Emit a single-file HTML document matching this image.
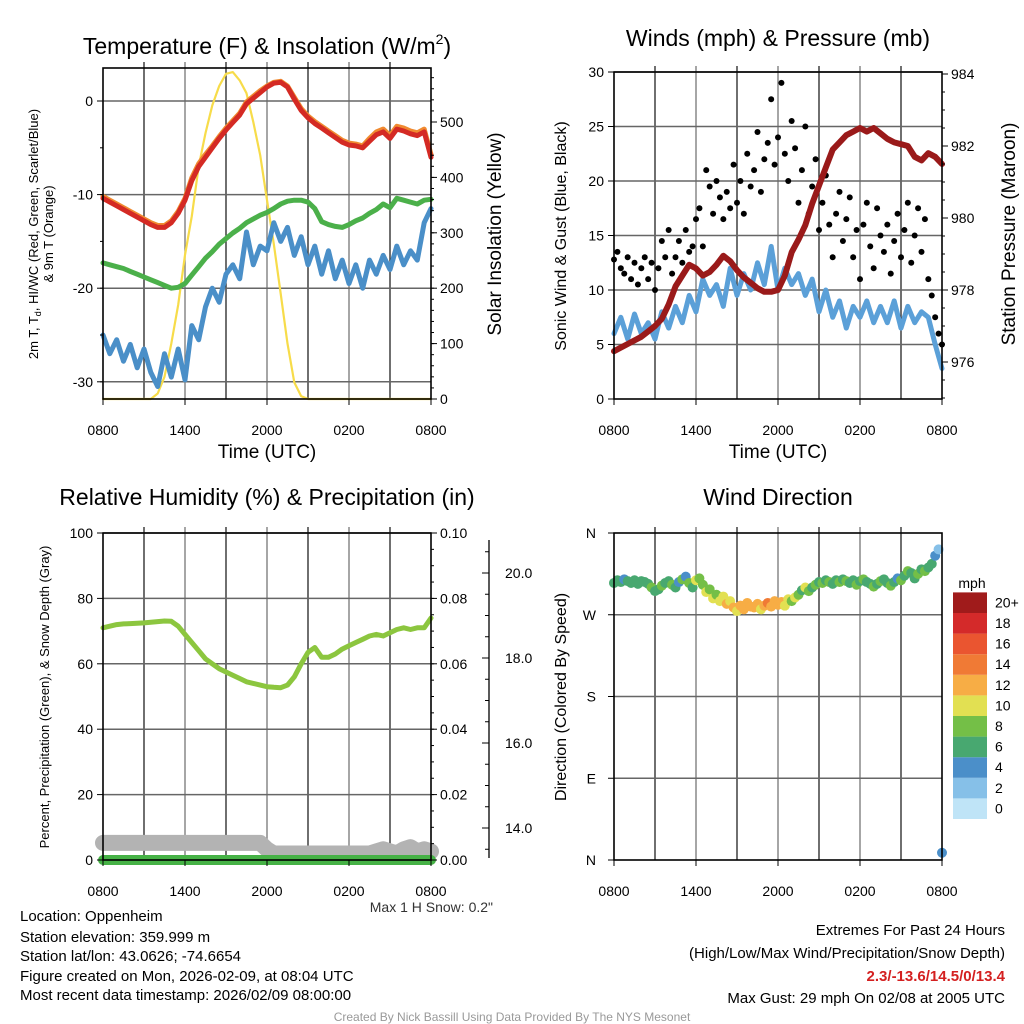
<!DOCTYPE html>
<html><head><meta charset="utf-8"><style>
body{margin:0;background:#fff;}
svg{display:block;font-family:"Liberation Sans",Arial,sans-serif;}
</style></head><body>
<svg id="s" width="1024" height="1024" viewBox="0 0 1024 1024">
<rect x="0" y="0" width="1024" height="1024" fill="#fff"/>
<g id="grids"></g>
<g id="marks"></g>
<g id="axes"></g>
<g font-size="23" fill="#000" text-anchor="middle">
<text x="267" y="54">Temperature (F) &amp; Insolation (W/m<tspan font-size="14" dy="-10">2</tspan><tspan dy="10">)</tspan></text>
<text x="778" y="46">Winds (mph) &amp; Pressure (mb)</text>
<text x="267" y="505">Relative Humidity (%) &amp; Precipitation (in)</text>
<text x="778" y="505">Wind Direction</text>
</g>
<g font-size="19" text-anchor="middle">
<text x="267" y="458">Time (UTC)</text>
<text x="778" y="458">Time (UTC)</text>
<text transform="translate(501,234) rotate(-90)">Solar Insolation (Yellow)</text>
<text transform="translate(1015,234) rotate(-90)">Station Pressure (Maroon)</text>
</g>
<g font-size="16" text-anchor="middle">
<text transform="translate(566,236) rotate(-90)">Sonic Wind &amp; Gust (Blue, Black)</text>
<text transform="translate(566,697) rotate(-90)">Direction (Colored By Speed)</text>
</g>
<g font-size="13" text-anchor="middle">
<text transform="translate(38,234) rotate(-90)">2m T, T<tspan font-size="9" dy="3">d</tspan><tspan dy="-3">, HI/WC (Red, Green, Scarlet/Blue)</tspan></text>
<text transform="translate(53,234) rotate(-90)">&amp; 9m T (Orange)</text>
<text transform="translate(49,697) rotate(-90)">Percent, Precipitation (Green), &amp; Snow Depth (Gray)</text>
</g>
<text x="493" y="912" font-size="14" text-anchor="end" fill="#333">Max 1 H Snow: 0.2"</text>
<g font-size="15" fill="#000">
<text x="20" y="921">Location: Oppenheim</text>
<text x="20" y="942">Station elevation: 359.999 m</text>
<text x="20" y="961">Station lat/lon: 43.0626; -74.6654</text>
<text x="20" y="981">Figure created on Mon, 2026-02-09, at 08:04 UTC</text>
<text x="20" y="1000">Most recent data timestamp: 2026/02/09 08:00:00</text>
</g>
<g font-size="15" text-anchor="end">
<text x="1005" y="935">Extremes For Past 24 Hours</text>
<text x="1005" y="958">(High/Low/Max Wind/Precipitation/Snow Depth)</text>
<text x="1005" y="981" fill="#d42020" font-weight="bold">2.3/-13.6/14.5/0/13.4</text>
<text x="1005" y="1003">Max Gust: 29 mph On 02/08 at 2005 UTC</text>
</g>
<text x="512" y="1021" font-size="12" fill="#999" text-anchor="middle">Created By Nick Bassill Using Data Provided By The NYS Mesonet</text>
<text x="972" y="588" font-size="14" text-anchor="middle">mph</text>
</svg>
<script>
// ---- data (half-hour steps, 0800 -> 0800 UTC) ----
const tempF = [-10.4,-10.8,-11.2,-11.6,-12.0,-12.4,-12.8,-13.2,-13.5,-13.5,-13.0,-12.0,-10.6,-8.5,-7.0,-6.0,-5.0,-4.0,-3.1,-2.3,-1.5,-0.3,0.3,0.9,1.5,1.9,2.0,1.5,0.2,-1.0,-1.8,-2.4,-2.9,-3.4,-3.9,-4.4,-4.7,-4.8,-5.0,-4.3,-3.6,-3.3,-4.0,-3.0,-3.2,-3.5,-3.7,-3.3,-6.0];
const temp9mF = [-10.2,-10.6,-11.0,-11.4,-11.8,-12.2,-12.6,-13.0,-13.3,-13.3,-12.8,-11.8,-10.4,-8.2,-6.7,-5.7,-4.8,-3.8,-2.9,-2.1,-1.3,-0.1,0.5,1.1,1.6,2.0,2.1,1.6,0.4,-0.8,-1.6,-2.2,-2.7,-3.2,-3.7,-4.2,-4.5,-4.6,-4.8,-4.0,-3.3,-3.0,-3.7,-2.7,-2.9,-3.2,-3.4,-3.0,-5.7];
const dewF = [-17.3,-17.5,-17.7,-17.9,-18.2,-18.5,-18.8,-19.1,-19.4,-19.7,-20.0,-19.9,-19.5,-18.6,-17.7,-16.8,-16.1,-15.3,-14.7,-14.1,-13.6,-13.0,-12.6,-12.2,-11.9,-11.5,-11.0,-10.7,-10.6,-10.6,-10.8,-11.5,-12.9,-13.2,-13.4,-13.5,-13.2,-12.8,-12.5,-12.0,-11.6,-11.0,-11.4,-10.4,-10.6,-10.8,-11.0,-10.6,-10.5];
const chillF = [-25.0,-27.0,-25.5,-27.8,-26.0,-28.5,-26.5,-29.0,-30.5,-27.0,-29.5,-26.5,-29.8,-24.0,-25.5,-22.0,-20.0,-21.5,-18.5,-17.5,-19.0,-14.0,-17.5,-15.5,-16.0,-13.0,-15.0,-13.5,-16.5,-14.5,-17.5,-15.5,-18.5,-16.0,-19.0,-17.0,-19.5,-17.5,-20.0,-17.0,-18.5,-16.5,-18.0,-15.5,-17.5,-16.0,-17.0,-13.0,-11.5];
const solar = [0,0,0,0,0,0,0,0,10,40,100,170,260,330,420,480,530,565,587,590,575,552,500,440,359,280,190,100,30,5,0,0,0,0,0,0,0,0,0,0,0,0,0,0,0,0,0,0,0];
const windMph = [6.0,7.5,5.5,7.8,6.0,7.0,5.5,8.0,6.5,8.5,7.0,9.5,8.0,11.0,9.5,10.5,8.5,12.0,9.5,11.5,10.0,12.5,10.5,14.0,10.0,12.0,10.5,11.5,9.5,11.0,8.0,10.0,7.5,9.0,6.5,8.5,7.5,9.0,7.0,8.5,7.0,9.0,6.5,8.5,7.0,8.0,7.5,5.0,2.8];
const pressureMb = [976.3,976.4,976.5,976.6,976.7,976.85,977.0,977.2,977.6,978.1,978.4,978.7,978.6,978.4,978.5,978.7,978.95,978.8,978.55,978.35,978.2,978.05,977.95,977.95,978.0,978.4,979.05,979.4,979.8,980.4,980.9,981.4,981.9,982.1,982.3,982.4,982.5,982.4,982.5,982.35,982.2,982.1,982.05,982.0,981.7,981.6,981.8,981.7,981.5];
const rhPct = [71,71.5,72,72.2,72.3,72.4,72.5,72.7,72.9,73.1,73.0,71.5,69,66.5,64,61.5,60,58.5,57.5,56.5,55.5,54.5,54,53.5,53,52.8,52.7,53.5,56,60,63.5,65,62,62,63,64.5,65.5,66.5,67.5,68.5,69,68.5,69.5,70.5,71,70.5,71,71,74];
const precipIn = [0,0,0,0,0,0,0,0,0,0,0,0,0,0,0,0,0,0,0,0,0,0,0,0,0,0,0,0,0,0,0,0,0,0,0,0,0,0,0,0,0,0,0,0,0,0,0,0,0];
const snowIn = [13.65,13.65,13.65,13.65,13.65,13.65,13.65,13.65,13.65,13.65,13.65,13.65,13.65,13.65,13.65,13.65,13.65,13.65,13.65,13.65,13.65,13.65,13.65,13.65,13.5,13.4,13.4,13.4,13.4,13.4,13.4,13.4,13.4,13.4,13.4,13.4,13.4,13.4,13.4,13.4,13.45,13.5,13.45,13.4,13.5,13.55,13.45,13.5,13.45];
// quarter-hour steps
const gustMph = [12.8,13.5,12.0,11.5,13.0, 11.0,12.5,10.5,12.0, 13.0,11.0,12.5,10.0, 12.0,14.5,13.0,15.5, 11.5,13.0,14.5,12.5, 15.5,13.5,14.0,16.5, 17.5,14.0,21.0,19.5, 17.0,20.0,18.5,16.5, 19.0,17.5,21.5,18.0, 20.0,17.0,22.5,19.5, 21.0,24.5,19.0,22.0, 23.5,27.5,21.5,24.0, 29.0,22.5,20.0,25.5, 23.0,18.0,21.0,25.0, 17.0,19.5,22.0,15.5, 18.0,20.5,16.0,13.0, 17.0,19.0,14.5,16.5, 18.5,13.0,15.5,11.0, 16.0,18.0,14.0,12.0, 17.5,15.0,13.5,16.0, 11.5,14.5,17.0,13.0, 15.5,18.0,12.5,15.0, 17.5,13.5,16.5,11.0, 9.5,7.5,6.0,5.0];
const dirDeg = [305,308,306,309,307, 305,308,304,307, 306,304,300,296, 298,302,305,307, 303,300,306,309, 312,305,300,308, 310,303,295,298, 288,292,285,290, 282,285,278,274, 280,276,283,279, 278,282,276,280, 283,279,285,281, 284,280,287,285, 289,292,297,300, 296,300,303,306, 305,308,306,304, 308,306,309,307, 305,308,303,307, 309,306,304,301, 304,307,309,305, 302,306,310,308, 313,318,316,310, 315,320,318,322, 326,335,342,8];
const dirSpeed = [7,6.5,7.2,5.5,7, 6.8,7.5,6.2,7, 7.3,6.5,8.5,7, 6.5,8.2,7.5,6.8, 8.5,7,5.5,8.8, 4.5,9,7.5,10.5, 9.5,8.5,10.5,9, 10.5,8.8,11,10, 12.5,10.5,13,11.5, 12.5,13.5,12,13, 12.5,13,10.5,12.8, 15,12.5,13.5,12, 13,10.5,11,9, 10,8.5,7.5,10.5, 8.5,7,8.2,7.5, 8.8,7.2,8.5,6.8, 7.5,8.3,7,8.5, 6.5,7.8,8.5,7, 8.2,7.5,6.7,8.8, 7.5,8.4,7,6.5, 8.5,7.2,4.8,8.3, 7.5,8.7,7,6.5, 8.2,7.5,8.8,7, 6.5,4.5,3.5,4];
const timeLabels = ['0800','1400','2000','0200','0800'];
const cbLabels = ['0','2','4','6','8','10','12','14','16','18','20+'];
const cbColors = ['#bfe4f7','#86c0e8','#4b8fc9','#48a870','#74bf47','#e2e052','#f7ad45','#f07a35','#ea5530','#d42a2a','#a01b1b'];

const NS='http://www.w3.org/2000/svg';
function add(p,tag,a){const e=document.createElementNS(NS,tag);for(const k in a)e.setAttribute(k,a[k]);p.appendChild(e);return e;}
const G=document.getElementById('grids'),M=document.getElementById('marks'),A=document.getElementById('axes');

function xs(left,t){return left+t*(328/24);}
const yT=v=>101-v*9.36, yS=v=>399-v*0.554;
const yW=v=>399-v*10.9, yP=p=>290-(p-978)*36;
const yRH=v=>860-v*3.27, yPr=v=>860-v*3270, ySn=v=>828-(v-14)*42.5;
const yD=d=>860-d*(327/360);

function frame(x0,x1,y0,y1,hvals,yf,name){
  for(let k=1;k<8;k++){const x=x0+k*41;
    const l=add(G,'line',{x1:x,x2:x,y1:y0-6,y2:y1,stroke:k%2?'#222':'#777','stroke-width':1.3});
    
    }
  hvals.forEach(v=>{const y=yf(v);
    const l=add(G,'line',{x1:x0,x2:x1,y1:y,y2:y,stroke:'#666','stroke-width':1.5});
    
    });
  const r=add(A,'rect',{x:x0,y:y0,width:x1-x0,height:y1-y0,fill:'none',stroke:'#000','stroke-width':1.6});
  
  
  timeLabels.forEach((s,i)=>{const x=x0+i*82;
    const tk=add(A,'line',{x1:x,x2:x,y1:y1,y2:y1+6,stroke:'#000'});
    
    
    const t=add(A,'text',{x:x,y:y1+36,'font-size':14,'text-anchor':'middle'});t.textContent=s;
    
    });
}
function yticks(x,vals,yf,fmt,side,name,minor,len){
  vals.forEach(v=>{const y=yf(v);
    const tk=add(A,'line',{x1:x,x2:x+(side>0?len||6:-(len||6)),y1:y,y2:y,stroke:'#000'});
    
    
    const t=add(A,'text',{x:x+(side>0?9:-10),y:y+5,'font-size':14,'text-anchor':side>0?'start':'end'});t.textContent=fmt(v);
    
    });
  (minor||[]).forEach(v=>{const y=yf(v);
    const tk=add(A,'line',{x1:x,x2:x+(side>0?3:-3),y1:y,y2:y,stroke:'#000'});
    
    });
}
function range(a,b,s){const r=[];for(let v=a;v<=b+1e-9;v+=s)r.push(+v.toFixed(4));return r;}

function line(arr,step,left,yf,color,w,name){
  const d=arr.map((v,i)=>(i?'L':'M')+xs(left,i*step).toFixed(1)+','+yf(v).toFixed(1)).join('');
  const p=add(M,'path',{d:d,fill:'none',stroke:color,'stroke-width':w,'stroke-linejoin':'round','stroke-linecap':'round'});
  
  
}

// Panel 1
frame(103,431,68,399,[-30,-20,-10,0],yT,'temperature');
yticks(103,[-30,-20,-10,0],yT,v=>v,-1,'temperature-y',range(-30,0,5));
yticks(431,range(0,500,100),yS,v=>v,1,'solar-y',range(0,580,20));
// Panel 2
frame(614,942,72,399,range(5,30,5),yW,'winds');
yticks(614,range(0,30,5),yW,v=>v,-1,'wind-y',[]);
yticks(942,range(976,984,2),yP,v=>v,1,'pressure-y',range(975,984,0.5));
// Panel 3
frame(103,431,533,860,range(20,100,20),yRH,'humidity');
yticks(103,range(0,100,20),yRH,v=>v,-1,'humidity-y',[]);
yticks(431,range(0,0.1,0.02),yPr,v=>v.toFixed(2),1,'precip-y',range(0,0.1,0.005));
{const l=add(A,'line',{x1:489,x2:489,y1:540,y2:858,stroke:'#000','stroke-width':1.3});

}
range(13,21,0.5).forEach(v=>{const y=ySn(v);if(y<540||y>858)return;const maj=Math.abs(v-Math.round(v/2)*2)<1e-6;
  const tk=add(A,'line',{x1:489,x2:maj?482:485,y1:y,y2:y,stroke:'#000'});
  
  
  if(maj){const t=add(A,'text',{x:505,y:y+5,'font-size':14});t.textContent=v.toFixed(1);
  
  }});
// Panel 4
frame(614,942,533,860,[90,180,270],yD,'direction');
[['N',0],['E',90],['S',180],['W',270],['N',360]].forEach(([s,d])=>{const y=yD(d);
  const tk=add(A,'line',{x1:614,x2:608,y1:y,y2:y,stroke:'#000'});
  
  
  const t=add(A,'text',{x:596,y:y+5,'font-size':14,'text-anchor':'end'});t.textContent=s;
  
  });

// series
line(solar,0.5,103,yS,'#f7dc4a',2.2,'solar-insolation-line');
line(temp9mF,0.5,103,yT,'#f08a30',5,'temperature-9m-line');
line(tempF,0.5,103,yT,'#d42a24',5,'temperature-2m-line');
line(dewF,0.5,103,yT,'#4bb04a',5,'dewpoint-line');
line(chillF,0.5,103,yT,'#4a8fc8',5,'wind-chill-line');

line(windMph,0.5,614,yW,'#5ba0d8',5,'sonic-wind-line');
gustMph.forEach((v,i)=>{const c=add(M,'circle',{cx:xs(614,i*0.25),cy:yW(v),r:3,fill:'#000'});
  
  });
line(pressureMb,0.5,614,yP,'#9a1a1a',6,'pressure-line');

line(snowIn,0.5,103,ySn,'#b3b3b3',16,'snow-depth-line');
line(precipIn,0.5,103,yPr,'#46b246',10,'precipitation-line');
line(rhPct,0.5,103,yRH,'#8cc63f',5,'relative-humidity-line');

function spColor(s){let k=Math.floor(s/2);if(k>10)k=10;if(k<0)k=0;return cbColors[k];}
dirDeg.forEach((d,i)=>{const c=add(M,'circle',{cx:xs(614,i*0.25),cy:yD(d),r:5,fill:spColor(dirSpeed[i])});
  
  });

// colorbar
cbColors.forEach((col,i)=>{const y=819-(i+1)*20.6;
  const r=add(A,'rect',{x:953,y:y,width:34,height:20.6,fill:col});
  
  
  const t=add(A,'text',{x:995,y:y+15,'font-size':14,'text-anchor':'start'});t.textContent=cbLabels[i];
  
  });
</script>
</body></html>
